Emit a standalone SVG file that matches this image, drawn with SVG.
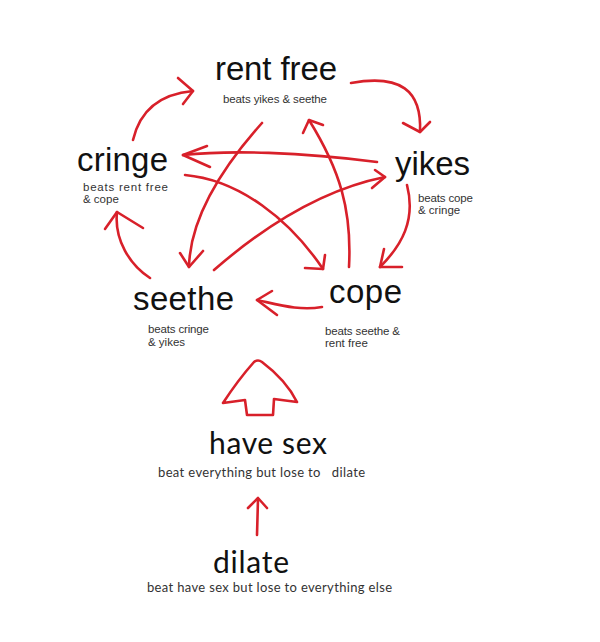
<svg xmlns="http://www.w3.org/2000/svg" width="600" height="642" viewBox="0 0 600 642">
<style>
.big{font-family:"Liberation Sans",Arial,sans-serif;font-size:33px;fill:#111}
.sm{font-family:"Liberation Sans",Arial,sans-serif;font-size:11.5px;fill:#333}
.cal{font-family:Lato,"Liberation Sans",sans-serif;fill:#111}
.cals{font-family:Lato,"Liberation Sans",sans-serif;font-size:13px;fill:#333}
.r{fill:none;stroke:#d8202a;stroke-width:2.6;stroke-linecap:round;stroke-linejoin:round}
</style>
<rect width="600" height="642" fill="#fff"/>
<g id="rentfree">
<text class="big" x="215" y="80" font-size="32" textLength="122">rent free</text>
<text class="sm" x="223" y="103" textLength="104">beats yikes &amp; seethe</text>
</g>
<g id="cringe">
<text class="big" x="77" y="171" textLength="91">cringe</text>
<text class="sm" x="83" y="191" textLength="85">beats rent free</text>
<text class="sm" x="83" y="203">&amp; cope</text>
</g>
<g id="yikes">
<text class="big" x="395" y="175" textLength="75">yikes</text>
<text class="sm" x="418" y="202" textLength="55">beats cope</text>
<text class="sm" x="418" y="214">&amp; cringe</text>
</g>
<g id="seethe">
<text class="big" x="133" y="310" textLength="101">seethe</text>
<text class="sm" x="148" y="333" textLength="61">beats cringe</text>
<text class="sm" x="148" y="346">&amp; yikes</text>
</g>
<g id="cope">
<text class="big" x="329" y="303" textLength="73">cope</text>
<text class="sm" x="325" y="335" textLength="75">beats seethe &amp;</text>
<text class="sm" x="325" y="347" font-size="13">rent free</text>
</g>
<g id="havesex">
<text class="cal" x="209" y="454" font-size="30" textLength="118">have sex</text>
<text class="cals" x="158" y="477" textLength="207" xml:space="preserve" style="white-space:pre">beat everything but lose to   dilate</text>
</g>
<g id="dilate">
<text class="cal" x="213" y="573" font-size="30" textLength="76">dilate</text>
<text class="cals" x="147" y="592" textLength="245">beat have sex but lose to everything else</text>
</g>
<g id="connectors">
<path class="r" d="M133,140 C140,110 160,94 193,91"/>
<path class="r" d="M178,78 L193,91 L183,104"/>
<path class="r" d="M351,83 C400,74 422,90 420,132"/>
<path class="r" d="M403,123 L420,132 L430,122"/>
<path class="r" d="M407,185 C416,220 402,245 380,267"/>
<path class="r" d="M384,249 L380,267 L402,267"/>
<path class="r" d="M322,307 C300,311 280,305 257,300"/>
<path class="r" d="M272,291 L257,300 L277,315"/>
<path class="r" d="M150,278 C130,265 114,240 117,212"/>
<path class="r" d="M105,229 L117,212 L143,228"/>
<path class="r" d="M377,162 C300,152 230,150 183,155"/>
<path class="r" d="M207,146 L183,155 L210,167"/>
<path class="r" d="M262,123 C220,170 190,220 189,267"/>
<path class="r" d="M180,253 L189,267 L203,251"/>
<path class="r" d="M349,267 C352,210 340,170 309,120"/>
<path class="r" d="M303,133 L309,120 L323,125"/>
<path class="r" d="M185,175 C240,180 290,220 323,269"/>
<path class="r" d="M305,268 L323,269 L325,255"/>
<path class="r" d="M214,270 C260,230 320,190 385,177"/>
<path class="r" d="M375,170 L385,177 L372,188"/>
<path class="r" stroke-width="3.2" d="M245,400 L223,403 Q238,380 254,362 Q258,359 262,362 Q286,380 297,402 L274,399 L273,415 L247,415 Z"/>
<path class="r" stroke-width="3.5" d="M257,535 L258,499"/>
<path class="r" stroke-width="3.5" d="M248,508 L258,498 L267,508"/>
</g>
</svg>
